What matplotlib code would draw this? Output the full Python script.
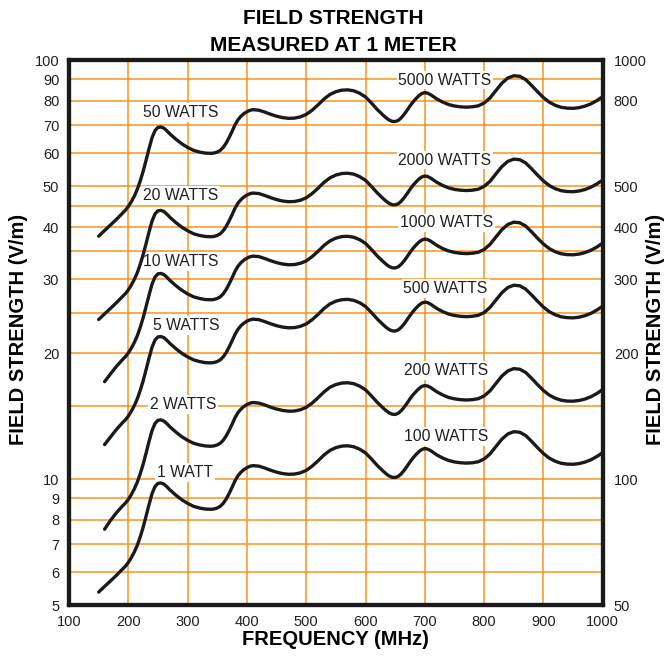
import matplotlib
matplotlib.use("Agg")
import matplotlib.pyplot as plt
from matplotlib import font_manager, ticker

# ---------------- data ----------------
freq_mhz = [150, 160, 170, 180, 190, 195, 200, 205, 210, 215, 220, 225, 230, 235, 240, 245, 250, 255,
            260, 265, 270, 280, 290, 300, 310, 320, 330, 340, 345, 350, 355, 360, 365, 370, 375, 380,
            385, 390, 395, 400, 405, 410, 420, 430, 440, 450, 460, 470, 480, 490, 500, 510, 520, 530,
            540, 550, 560, 570, 580, 590, 600, 610, 620, 630, 635, 640, 645, 650, 655, 660, 665, 670,
            675, 680, 685, 690, 695, 700, 705, 710, 720, 730, 740, 750, 760, 770, 780, 790, 800, 810,
            820, 830, 840, 850, 860, 870, 880, 890, 900, 910, 920, 930, 940, 950, 960, 970, 980, 990,
            1000]

field_1w = [5.38, 5.55, 5.72, 5.90, 6.10, 6.20, 6.33, 6.50, 6.70, 6.95, 7.28, 7.68, 8.17, 8.71, 9.24, 9.61, 9.78, 9.80,
            9.74, 9.60, 9.44, 9.17, 8.94, 8.76, 8.62, 8.54, 8.49, 8.48, 8.50, 8.54, 8.62, 8.76, 8.97, 9.25, 9.57, 9.92,
            10.20, 10.40, 10.55, 10.66, 10.74, 10.78, 10.75, 10.64, 10.51, 10.40, 10.32, 10.28, 10.29, 10.36, 10.50, 10.75, 11.07, 11.43,
            11.72, 11.90, 12.00, 12.02, 11.96, 11.80, 11.56, 11.18, 10.78, 10.45, 10.30, 10.18, 10.11, 10.10, 10.16, 10.30, 10.50, 10.74,
            11.00, 11.24, 11.45, 11.64, 11.78, 11.84, 11.80, 11.70, 11.44, 11.24, 11.09, 11.00, 10.95, 10.93, 10.95, 11.01, 11.18, 11.50,
            11.98, 12.47, 12.83, 12.99, 12.95, 12.72, 12.32, 11.90, 11.52, 11.23, 11.04, 10.92, 10.87, 10.86, 10.90, 10.99, 11.13, 11.33,
            11.58]

# the 2 W, 5 W and 10 W curves start at 160 MHz
field_2w = [None, 7.60, 7.98, 8.32, 8.63, 8.77, 8.95, 9.19, 9.48, 9.83, 10.30, 10.86, 11.55, 12.32, 13.07, 13.59, 13.83, 13.86,
            13.77, 13.58, 13.35, 12.97, 12.64, 12.39, 12.19, 12.08, 12.01, 11.99, 12.02, 12.08, 12.19, 12.39, 12.69, 13.08, 13.53, 14.03,
            14.43, 14.71, 14.92, 15.08, 15.19, 15.25, 15.20, 15.05, 14.86, 14.71, 14.60, 14.54, 14.55, 14.65, 14.85, 15.20, 15.66, 16.16,
            16.58, 16.83, 16.97, 17.00, 16.91, 16.69, 16.35, 15.81, 15.25, 14.78, 14.57, 14.40, 14.30, 14.28, 14.37, 14.57, 14.85, 15.19,
            15.56, 15.90, 16.19, 16.46, 16.66, 16.74, 16.69, 16.55, 16.18, 15.90, 15.68, 15.56, 15.49, 15.46, 15.49, 15.57, 15.81, 16.26,
            16.94, 17.64, 18.14, 18.37, 18.31, 17.99, 17.42, 16.83, 16.29, 15.88, 15.61, 15.44, 15.37, 15.36, 15.42, 15.54, 15.74, 16.02,
            16.38]

field_5w = [None, 12.10, 12.62, 13.15, 13.64, 13.86, 14.15, 14.53, 14.98, 15.54, 16.28, 17.17, 18.27, 19.48, 20.66, 21.49, 21.87, 21.91,
            21.78, 21.47, 21.11, 20.51, 19.99, 19.59, 19.28, 19.10, 18.98, 18.96, 19.01, 19.10, 19.28, 19.59, 20.06, 20.68, 21.40, 22.18,
            22.81, 23.26, 23.59, 23.84, 24.02, 24.11, 24.04, 23.79, 23.50, 23.26, 23.08, 22.99, 23.01, 23.17, 23.48, 24.04, 24.75, 25.56,
            26.21, 26.61, 26.83, 26.88, 26.74, 26.39, 25.85, 25.00, 24.11, 23.37, 23.03, 22.76, 22.61, 22.58, 22.72, 23.03, 23.48, 24.02,
            24.60, 25.13, 25.60, 26.03, 26.34, 26.48, 26.39, 26.16, 25.58, 25.13, 24.80, 24.60, 24.49, 24.44, 24.49, 24.62, 25.00, 25.72,
            26.79, 27.88, 28.69, 29.05, 28.96, 28.44, 27.55, 26.61, 25.76, 25.11, 24.69, 24.42, 24.31, 24.28, 24.37, 24.57, 24.89, 25.34,
            25.89]

field_10w = [None, 17.10, 17.85, 18.60, 19.29, 19.61, 20.02, 20.56, 21.19, 21.98, 23.02, 24.29, 25.84, 27.54, 29.22, 30.39, 30.93, 30.99,
             30.80, 30.36, 29.85, 29.00, 28.27, 27.70, 27.26, 27.01, 26.85, 26.82, 26.88, 27.01, 27.26, 27.70, 28.37, 29.25, 30.26, 31.37,
             32.26, 32.89, 33.36, 33.71, 33.96, 34.09, 34.00, 33.65, 33.24, 32.89, 32.64, 32.51, 32.54, 32.76, 33.20, 34.00, 35.01, 36.15,
             37.06, 37.63, 37.95, 38.01, 37.82, 37.32, 36.56, 35.35, 34.09, 33.05, 32.57, 32.19, 31.97, 31.94, 32.13, 32.57, 33.20, 33.96,
             34.79, 35.54, 36.21, 36.81, 37.25, 37.44, 37.32, 37.00, 36.18, 35.54, 35.07, 34.79, 34.63, 34.56, 34.63, 34.82, 35.35, 36.37,
             37.88, 39.43, 40.57, 41.08, 40.95, 40.22, 38.96, 37.63, 36.43, 35.51, 34.91, 34.53, 34.37, 34.34, 34.47, 34.75, 35.20, 35.83,
             36.62]

field_20w = [24.06, 24.82, 25.58, 26.39, 27.28, 27.73, 28.31, 29.07, 29.96, 31.08, 32.56, 34.35, 36.54, 38.95, 41.32, 42.98, 43.74, 43.83,
             43.56, 42.93, 42.22, 41.01, 39.98, 39.18, 38.55, 38.19, 37.97, 37.92, 38.01, 38.19, 38.55, 39.18, 40.12, 41.37, 42.80, 44.36,
             45.62, 46.51, 47.18, 47.67, 48.03, 48.21, 48.08, 47.58, 47.00, 46.51, 46.15, 45.97, 46.02, 46.33, 46.96, 48.08, 49.51, 51.12,
             52.41, 53.22, 53.67, 53.76, 53.49, 52.77, 51.70, 50.00, 48.21, 46.73, 46.06, 45.53, 45.21, 45.17, 45.44, 46.06, 46.96, 48.03,
             49.19, 50.27, 51.21, 52.06, 52.68, 52.95, 52.77, 52.32, 51.16, 50.27, 49.60, 49.19, 48.97, 48.88, 48.97, 49.24, 50.00, 51.43,
             53.58, 55.77, 57.38, 58.09, 57.91, 56.89, 55.10, 53.22, 51.52, 50.22, 49.37, 48.84, 48.61, 48.57, 48.75, 49.15, 49.78, 50.67,
             51.79]

field_50w = [38.04, 39.24, 40.45, 41.72, 43.13, 43.84, 44.76, 45.96, 47.38, 49.14, 51.48, 54.31, 57.77, 61.59, 65.34, 67.95, 69.16, 69.30,
             68.87, 67.88, 66.75, 64.84, 63.22, 61.94, 60.95, 60.39, 60.03, 59.96, 60.10, 60.39, 60.95, 61.94, 63.43, 65.41, 67.67, 70.15,
             72.13, 73.54, 74.60, 75.38, 75.94, 76.23, 76.01, 75.24, 74.32, 73.54, 72.97, 72.69, 72.76, 73.26, 74.25, 76.01, 78.28, 80.82,
             82.87, 84.15, 84.85, 84.99, 84.57, 83.44, 81.74, 79.06, 76.23, 73.89, 72.83, 71.98, 71.49, 71.42, 71.84, 72.83, 74.25, 75.94,
             77.78, 79.48, 80.96, 82.31, 83.30, 83.72, 83.44, 82.73, 80.89, 79.48, 78.42, 77.78, 77.43, 77.29, 77.43, 77.85, 79.06, 81.32,
             84.71, 88.18, 90.72, 91.85, 91.57, 89.94, 87.12, 84.15, 81.46, 79.41, 78.07, 77.22, 76.86, 76.79, 77.08, 77.71, 78.70, 80.12,
             81.88]

left_labels = ["1 WATT", "2 WATTS", "5 WATTS", "10 WATTS", "20 WATTS", "50 WATTS"]
right_labels = ["100 WATTS", "200 WATTS", "500 WATTS", "1000 WATTS", "2000 WATTS", "5000 WATTS"]

x_ticks = [100, 200, 300, 400, 500, 600, 700, 800, 900, 1000]
left_grid = [5, 6, 7, 8, 9, 10, 15, 20, 25, 30, 35, 40, 45, 50, 60, 70, 80, 90, 100]
left_ticklabels = ["5", "6", "7", "8", "9", "10", "", "20", "", "30", "", "40", "", "50",
                   "60", "70", "80", "90", "100"]
right_ticks = [50, 100, 200, 300, 400, 500, 800, 1000]

# ---------------- style ----------------
def pick(names):
    avail = {f.name for f in font_manager.fontManager.ttflist}
    for n in names:
        if n in avail:
            return n
    return "DejaVu Sans"

FONT = pick(["Liberation Sans", "Arial", "DejaVu Sans"])
plt.rcParams["font.family"] = [FONT, "DejaVu Sans"]

ORANGE = "#F7941D"
TXT = "#231F20"
INK = "#1a1a1a"

fig = plt.figure(figsize=(6.70, 6.58), dpi=100)
ax = fig.add_axes([0.1030, 0.0799, 0.7966, 0.8285])

ax.set_yscale("log")
ax.set_xlim(100, 1000)
ax.set_ylim(5, 100)

curves = [field_1w, field_2w, field_5w, field_10w, field_20w, field_50w]
for vals in curves:
    xs = [f for f, v in zip(freq_mhz, vals) if v is not None]
    ys = [v for v in vals if v is not None]
    ax.plot(xs, ys, color=INK, lw=2.4, solid_capstyle="round",
            solid_joinstyle="round", zorder=4)

# grid / ticks
ax.set_xticks(x_ticks)
ax.set_xticklabels([str(t) for t in x_ticks])
ax.set_yticks(left_grid)
ax.set_yticklabels(left_ticklabels)
ax.yaxis.set_minor_locator(ticker.NullLocator())
ax.grid(True, which="major", color=ORANGE, lw=1.1, zorder=0)
ax.set_axisbelow(True)
ax.tick_params(axis="both", length=0, labelsize=10.5, labelcolor=TXT)
ax.tick_params(axis="x", pad=7)
ax.tick_params(axis="y", pad=7)

for s in ax.spines.values():
    s.set_linewidth(3.0)
    s.set_color(INK)
    s.set_zorder(6)

ax2 = ax.twinx()
ax2.set_yscale("log")
ax2.set_ylim(50, 1000)
ax2.set_yticks(right_ticks)
ax2.set_yticklabels([str(t) for t in right_ticks])
ax2.yaxis.set_minor_locator(ticker.NullLocator())
ax2.tick_params(axis="y", length=0, labelsize=10.5, labelcolor=TXT, pad=8)
for s in ax2.spines.values():
    s.set_linewidth(3.0)
    s.set_color(INK)

# curve labels
left_pos = [(296, 10.38), (292, 15.1), (297, 23.3), (289, 33.1), (288, 47.6), (288, 75.2)]
right_pos = [(736, 12.65), (735, 18.2), (735, 28.5), (737, 40.9), (734, 57.8), (734, 89.7)]
bbox = dict(boxstyle="square,pad=0.12", fc="white", ec="none")
for lab, (x, y) in zip(left_labels, left_pos):
    ax.text(x, y, lab, ha="center", va="center", fontsize=11.3, color=TXT,
            bbox=bbox, zorder=3)
for lab, (x, y) in zip(right_labels, right_pos):
    ax.text(x, y, lab, ha="center", va="center", fontsize=11.3, color=TXT,
            bbox=bbox, zorder=3)

# titles and axis labels
tkw = dict(fontsize=14.5, fontweight="bold", color="black", ha="center", va="center")
fig.text(0.497, 0.9726, "FIELD STRENGTH", **dict(tkw, fontsize=15))
fig.text(0.497, 0.9316, "MEASURED AT 1 METER", **dict(tkw, fontsize=15))
fig.text(0.500, 0.0274, "FREQUENCY (MHz)", **tkw)
fig.text(0.027, 0.500, "FIELD STRENGTH (V/m)", rotation=90, **tkw)
fig.text(0.978, 0.500, "FIELD STRENGTH (V/m)", rotation=90, **tkw)

fig.savefig("out.png", dpi=100, facecolor="white")
